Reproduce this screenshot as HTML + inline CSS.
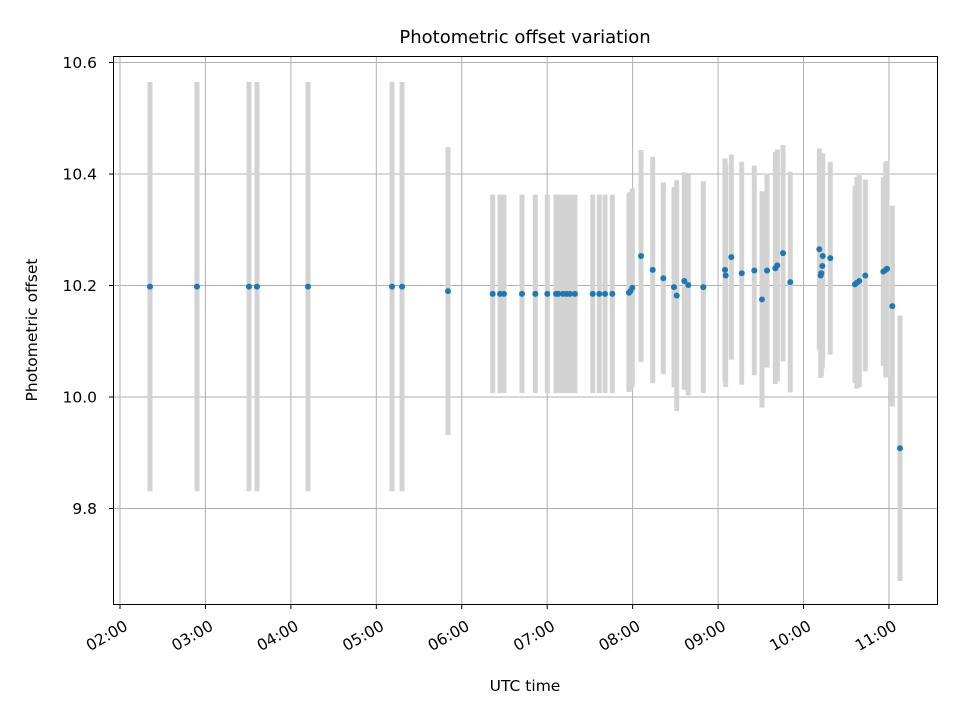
<!DOCTYPE html>
<html><head><meta charset="utf-8"><style>
body{margin:0;background:#fff;}
svg text{font-family:"DejaVu Sans","Liberation Sans",sans-serif;fill:#000;}
</style></head><body>
<svg id="chart" width="960" height="720" xmlns="http://www.w3.org/2000/svg">
<rect x="0" y="0" width="960" height="720" fill="#fff"/>
<g id="grid"></g>
<g id="bars"></g>
<g id="pts"></g>
<rect x="113.5" y="56.5" width="824" height="548" fill="none" stroke="#000" stroke-width="1"/>
<g id="axes"></g>
<text x="525" y="43" font-size="18" text-anchor="middle">Photometric offset variation</text>
<text x="525" y="691" font-size="15.5" text-anchor="middle">UTC time</text>
<text transform="translate(37,330) rotate(-90)" font-size="15.5" text-anchor="middle">Photometric offset</text>
</svg>
<script>
const times=[2.351,2.901,3.510,3.603,4.200,5.184,5.301,5.839,6.362,6.448,6.494,6.705,6.861,7.001,7.103,7.130,7.185,7.228,7.267,7.325,7.533,7.610,7.677,7.762,7.957,7.973,7.996,8.098,8.235,8.359,8.484,8.516,8.605,8.651,8.827,9.081,9.089,9.155,9.277,9.424,9.514,9.573,9.670,9.693,9.760,9.845,10.185,10.225,10.220,10.201,10.208,10.313,10.602,10.625,10.653,10.723,10.934,10.962,10.977,11.039,11.129];
const offsets=[10.198,10.198,10.198,10.198,10.198,10.198,10.198,10.19,10.185,10.185,10.185,10.185,10.185,10.185,10.185,10.185,10.185,10.185,10.185,10.185,10.185,10.185,10.185,10.185,10.187,10.19,10.196,10.253,10.228,10.213,10.197,10.182,10.208,10.201,10.197,10.228,10.218,10.251,10.222,10.227,10.175,10.227,10.231,10.236,10.258,10.206,10.265,10.253,10.235,10.218,10.222,10.249,10.202,10.205,10.208,10.218,10.225,10.228,10.23,10.163,9.908];
const errors=[0.367,0.367,0.367,0.367,0.367,0.367,0.367,0.258,0.178,0.178,0.178,0.178,0.178,0.178,0.178,0.178,0.178,0.178,0.178,0.178,0.178,0.178,0.178,0.178,0.178,0.178,0.178,0.19,0.203,0.172,0.18,0.207,0.195,0.198,0.19,0.2,0.2,0.184,0.2,0.188,0.194,0.174,0.208,0.208,0.194,0.198,0.181,0.184,0.184,0.184,0.184,0.173,0.177,0.19,0.19,0.172,0.169,0.193,0.193,0.18,0.238];
const yTicks=[9.8,10.0,10.2,10.4,10.6];
const xTickHours=[2,3,4,5,6,7,8,9,10,11];
const xTickLabels=["02:00","03:00","04:00","05:00","06:00","07:00","08:00","09:00","10:00","11:00"];
const NS="http://www.w3.org/2000/svg";
function X(h){return 120+(h-2)*85.44;}
function Y(v){return 397-(v-10)*557.5;}
function mk(tag,attrs,parent){const e=document.createElementNS(NS,tag);for(const k in attrs)e.setAttribute(k,attrs[k]);parent.appendChild(e);return e;}
const grid=document.getElementById('grid'),axes=document.getElementById('axes'),bars=document.getElementById('bars'),pts=document.getElementById('pts');
yTicks.forEach(v=>{const y=Y(v);
 const g=mk('line',{x1:113.5,x2:937.5,y1:y,y2:y,stroke:'#b0b0b0','stroke-width':1},grid);
 
 
 const t=mk('line',{x1:109,x2:113.5,y1:y,y2:y,stroke:'#000','stroke-width':1},axes);
 
 
 const l=mk('text',{x:97,y:y+5.5,'font-size':15.5,'text-anchor':'end'},axes);
 l.textContent=v.toFixed(1);
 
 
});
xTickHours.forEach((h,i)=>{const x=X(h);
 const g=mk('line',{x1:x,x2:x,y1:56.5,y2:604.5,stroke:'#b0b0b0','stroke-width':1},grid);
 
 
 const t=mk('line',{x1:x,x2:x,y1:604.5,y2:609,stroke:'#000','stroke-width':1},axes);
 
 
 const l=mk('text',{transform:`translate(${x+3},${619}) rotate(-30)`,'font-size':15.5,'text-anchor':'end',dy:'0.75em'},axes);
 l.textContent=xTickLabels[i];
 
 
});
times.forEach((h,i)=>{const x=X(h);
 const b=mk('line',{x1:x,x2:x,y1:Y(offsets[i]+errors[i]),y2:Y(offsets[i]-errors[i]),stroke:'#d3d3d3','stroke-width':5},bars);
 
 
 const c=mk('circle',{cx:x,cy:Y(offsets[i]),r:3,fill:'#1f77b4'},pts);
 
 
});
</script>
</body></html>
